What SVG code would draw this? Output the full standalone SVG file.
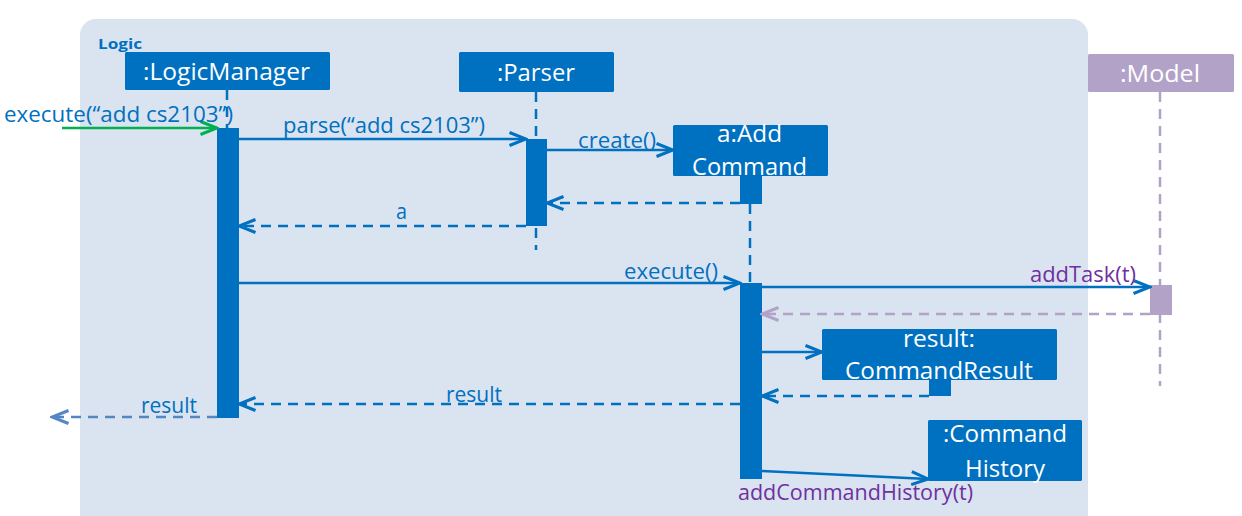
<svg xmlns="http://www.w3.org/2000/svg" width="1242" height="516" viewBox="0 0 1242 516">
<style>
.box{fill:#0070C0}
.mbox{fill:#B3A2C7}
.bt{font-family:"Open Sans","Noto Sans",sans-serif;font-size:24px;fill:#ffffff;text-anchor:start}
.lb{font-family:"Open Sans","Noto Sans",sans-serif;font-size:22px;fill:#0070C0}
.pl{font-family:"Open Sans","Noto Sans",sans-serif;font-size:22px;fill:#7030A0}
.life{stroke:#0070C0;stroke-width:2.5;stroke-dasharray:10 7;fill:none}
.mlife{stroke:#B3A2C7;stroke-width:2.5;stroke-dasharray:10 7;fill:none}
.call{stroke:#0070C0;stroke-width:2.5;fill:none;marker-end:url(#ab)}
.ret{stroke:#0070C0;stroke-width:2.5;stroke-dasharray:10 7;fill:none;marker-end:url(#ab)}
</style>
<defs>
<marker id="ab" viewBox="0 0 20 16" refX="18" refY="8" markerWidth="20" markerHeight="16" markerUnits="userSpaceOnUse" orient="auto"><polyline points="1.5,1.5 18,8 1.5,14.5" fill="none" stroke="#0070C0" stroke-width="3"/></marker>
<marker id="ag" viewBox="0 0 20 16" refX="18" refY="8" markerWidth="20" markerHeight="16" markerUnits="userSpaceOnUse" orient="auto"><polyline points="1.5,1.5 18,8 1.5,14.5" fill="none" stroke="#00B050" stroke-width="3"/></marker>
<marker id="ap" viewBox="0 0 20 16" refX="18" refY="8" markerWidth="20" markerHeight="16" markerUnits="userSpaceOnUse" orient="auto"><polyline points="1.5,1.5 18,8 1.5,14.5" fill="none" stroke="#B3A2C7" stroke-width="3"/></marker>
<marker id="al" viewBox="0 0 20 16" refX="18" refY="8" markerWidth="20" markerHeight="16" markerUnits="userSpaceOnUse" orient="auto"><polyline points="1.5,1.5 18,8 1.5,14.5" fill="none" stroke="#5585C5" stroke-width="3"/></marker>
</defs>
<rect width="1242" height="516" fill="#ffffff"/>
<g id="logic-frame">
<rect x="80" y="19" width="1008" height="520" rx="16" fill="#DAE3F0"/>
<text x="98" y="49" font-family="'Open Sans','Noto Sans',sans-serif" font-size="15" font-weight="bold" fill="#0070C0" textLength="44" lengthAdjust="spacingAndGlyphs">Logic</text>
</g>
<g id="lifelines">
<line class="life" x1="227" y1="90" x2="227" y2="128"/>
<line class="life" x1="536" y1="92" x2="536" y2="250"/>
<line class="life" x1="750" y1="204" x2="750" y2="283"/>
<line class="mlife" x1="1160" y1="92" x2="1160" y2="386"/>
</g>
<g id="LogicManager">
<rect class="box" x="125" y="52" width="205" height="38" rx="1.5"/>
<text class="bt" x="143" y="80" textLength="167" lengthAdjust="spacingAndGlyphs">:LogicManager</text>
<rect class="box" x="217" y="128" width="22" height="290"/>
</g>
<g id="Parser">
<rect class="box" x="459" y="52" width="155" height="40" rx="1.5"/>
<text class="bt" x="497" y="81" textLength="78" lengthAdjust="spacingAndGlyphs">:Parser</text>
<rect class="box" x="526" y="139" width="21" height="87"/>
</g>
<g id="AddCommand">
<rect class="box" x="673" y="125" width="155" height="51" rx="1.5"/>
<text class="bt" x="717" y="142" textLength="65" lengthAdjust="spacingAndGlyphs">a:Add</text>
<text class="bt" x="692" y="175" textLength="115" lengthAdjust="spacingAndGlyphs">Command</text>
<rect class="box" x="740" y="176" width="22" height="28"/>
<rect class="box" x="740" y="283" width="22" height="196"/>
</g>
<g id="Model">
<rect class="mbox" x="1088" y="54" width="146" height="38" rx="1.5"/>
<text class="bt" x="1120" y="82" textLength="80" lengthAdjust="spacingAndGlyphs">:Model</text>
<rect class="mbox" x="1150" y="285" width="22" height="30"/>
</g>
<g id="CommandResult">
<rect class="box" x="822" y="329" width="235" height="51" rx="1.5"/>
<text class="bt" x="903" y="347" textLength="72" lengthAdjust="spacingAndGlyphs">result:</text>
<text class="bt" x="845" y="379" textLength="188" lengthAdjust="spacingAndGlyphs">CommandResult</text>
<rect class="box" x="929" y="379" width="22" height="17"/>
</g>
<g id="CommandHistory">
<rect class="box" x="928" y="420" width="154" height="61" rx="1.5"/>
<text class="bt" x="943" y="442" textLength="124" lengthAdjust="spacingAndGlyphs">:Command</text>
<text class="bt" x="965" y="477" textLength="80" lengthAdjust="spacingAndGlyphs">History</text>
</g>
<g id="connectors">
<line x1="62" y1="128" x2="217" y2="128" stroke="#00B050" stroke-width="2.5" marker-end="url(#ag)"/>
<text class="lb" x="4" y="122" textLength="229" lengthAdjust="spacingAndGlyphs">execute(“add cs2103”)</text>
<line class="call" x1="239" y1="139" x2="526" y2="139"/>
<text class="lb" x="283" y="133" textLength="202" lengthAdjust="spacingAndGlyphs">parse(“add cs2103”)</text>
<line class="call" x1="547" y1="150" x2="673" y2="150"/>
<text class="lb" x="578" y="148" textLength="78" lengthAdjust="spacingAndGlyphs">create()</text>
<line class="ret" x1="740" y1="203" x2="547" y2="203"/>
<line class="ret" x1="526" y1="226" x2="239" y2="226"/>
<text class="lb" x="396" y="219" textLength="11" lengthAdjust="spacingAndGlyphs">a</text>
<line class="call" x1="239" y1="283" x2="740" y2="283"/>
<text class="lb" x="624" y="279" textLength="94" lengthAdjust="spacingAndGlyphs">execute()</text>
<line class="call" x1="762" y1="287" x2="1150" y2="287"/>
<text class="pl" x="1030" y="282" textLength="106" lengthAdjust="spacingAndGlyphs">addTask(t)</text>
<line x1="1150" y1="314" x2="762" y2="314" stroke="#B3A2C7" stroke-width="2.5" stroke-dasharray="10 7" marker-end="url(#ap)"/>
<line class="call" x1="762" y1="352" x2="822" y2="352"/>
<line class="ret" x1="929" y1="396" x2="762" y2="396"/>
<line class="ret" x1="740" y1="404" x2="239" y2="404"/>
<text class="lb" x="446" y="402" textLength="56" lengthAdjust="spacingAndGlyphs">result</text>
<line x1="217" y1="417" x2="52" y2="417" stroke="#5585C5" stroke-width="2.5" stroke-dasharray="10 7" marker-end="url(#al)"/>
<text class="lb" x="141" y="413" textLength="56" lengthAdjust="spacingAndGlyphs">result</text>
<line class="call" x1="762" y1="471" x2="928" y2="479"/>
<text class="pl" x="738" y="500" textLength="235" lengthAdjust="spacingAndGlyphs">addCommandHistory(t)</text>
</g>
</svg>
